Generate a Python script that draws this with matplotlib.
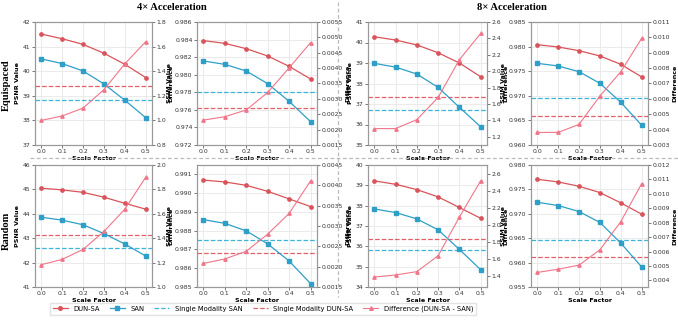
"""Scale factor ablation: PSNR / SSIM vs scale factor."""
import matplotlib
matplotlib.use("Agg")
import matplotlib.pyplot as plt
from matplotlib.lines import Line2D

scale = [0.0, 0.1, 0.2, 0.3, 0.4, 0.5]

# Equispaced, 4x
eq4_psnr_dun = [41.51, 41.32, 41.09, 40.73, 40.28, 39.74]
eq4_psnr_san = [40.50, 40.31, 40.01, 39.48, 38.82, 38.11]
eq4_psnr_single = (38.84, 39.38)  # (SAN, DUN-SA)
eq4_psnr_diff = [1.00, 1.036, 1.10, 1.25, 1.46, 1.64]

eq4_ssim_dun = [0.98388, 0.98357, 0.98296, 0.98213, 0.98095, 0.97951]
eq4_ssim_san = [0.98156, 0.98118, 0.98042, 0.97898, 0.97697, 0.97466]
eq4_ssim_single = (0.97799, 0.97617)
eq4_ssim_diff = [0.00231, 0.00242, 0.00264, 0.00321, 0.00401, 0.00483]

# Equispaced, 8x
eq8_psnr_dun = [40.28, 40.12, 39.88, 39.50, 39.00, 38.33]
eq8_psnr_san = [38.98, 38.80, 38.46, 37.81, 36.84, 35.89]
eq8_psnr_single = (36.69, 37.34)
eq8_psnr_diff = [1.30, 1.30, 1.41, 1.68, 2.14, 2.46]

eq8_ssim_dun = [0.98039, 0.97992, 0.97917, 0.97809, 0.97640, 0.97382]
eq8_ssim_san = [0.97660, 0.97606, 0.97490, 0.97253, 0.96867, 0.96400]
eq8_ssim_single = (0.96949, 0.96596)
eq8_ssim_diff = [0.00382, 0.00382, 0.00434, 0.00619, 0.00777, 0.00994]

# Random, 4x
rd4_psnr_dun = [45.05, 44.98, 44.88, 44.68, 44.43, 44.19]
rd4_psnr_san = [43.86, 43.74, 43.55, 43.19, 42.76, 42.27]
rd4_psnr_single = (42.58, 43.13)
rd4_psnr_diff = [1.183, 1.226, 1.308, 1.455, 1.638, 1.90]

rd4_ssim_dun = [0.99068, 0.99058, 0.99040, 0.99008, 0.98968, 0.98927]
rd4_ssim_san = [0.98858, 0.98838, 0.98798, 0.98729, 0.98638, 0.98518]
rd4_ssim_single = (0.98749, 0.98678)
rd4_ssim_diff = [0.00208, 0.00219, 0.00238, 0.00280, 0.00331, 0.00411]

# Random, 8x
rd8_psnr_dun = [39.22, 39.05, 38.79, 38.43, 37.91, 37.38]
rd8_psnr_san = [37.84, 37.66, 37.35, 36.81, 35.85, 34.85]
rd8_psnr_single = (35.81, 36.35)
rd8_psnr_diff = [1.392, 1.416, 1.455, 1.642, 2.094, 2.52]

rd8_ssim_dun = [0.97707, 0.97653, 0.97564, 0.97435, 0.97223, 0.96992]
rd8_ssim_san = [0.97237, 0.97169, 0.97046, 0.96822, 0.96399, 0.95909]
rd8_ssim_single = (0.96460, 0.96113)
rd8_ssim_diff = [0.00455, 0.00477, 0.00506, 0.00612, 0.00808, 0.01071]

C_DUN = "#d9545a"
C_SAN = "#2e9fc7"
C_DIFF = "#f0768a"
C_SSAN = "#3fb4d9"
C_SDUN = "#e0616a"

W, H = 678, 321
plt.rcParams["font.family"] = "DejaVu Sans"
fig = plt.figure(figsize=(W / 100, H / 100), dpi=100)

TICK_FS = 4.4
LABEL_FS = 4.6


def px_axes(x0, y0, x1, y1):
    return fig.add_axes([x0 / W, 1 - y1 / H, (x1 - x0) / W, (y1 - y0) / H])


def panel(box, dun, san, single, diff, metric, ylim, yticks, dlim, dticks):
    ax = px_axes(*box)
    ax.plot(scale, dun, color=C_DUN, marker="o", ms=2.4, lw=0.9, zorder=4)
    ax.plot(scale, san, color=C_SAN, marker="s", ms=2.4, lw=0.9, zorder=4)
    ax.axhline(single[0], color=C_SSAN, ls="--", lw=0.9, zorder=3)
    ax.axhline(single[1], color=C_SDUN, ls="--", lw=0.9, zorder=3)
    ax.set_ylim(*ylim)
    ax.set_yticks(yticks)
    ax.set_xlim(-0.03, 0.53)
    ax.set_xticks(scale)
    ax.grid(True, color="#e8e8e8", lw=0.6)
    ax.set_axisbelow(True)
    ax.set_xlabel("Scale Factor", fontsize=LABEL_FS, fontweight="bold", labelpad=1)
    ax.set_ylabel(f"{metric} Value", fontsize=LABEL_FS, fontweight="bold", labelpad=2)

    ax2 = ax.twinx()
    ax2.plot(scale, diff, color=C_DIFF, marker="^", ms=2.4, lw=0.8, zorder=4)
    ax2.set_ylim(*dlim)
    ax2.set_yticks(dticks)
    ax2.set_ylabel("Difference", fontsize=LABEL_FS, fontweight="bold", labelpad=1.5)

    for a in (ax, ax2):
        a.tick_params(labelsize=TICK_FS, length=2, width=0.5, pad=1.2,
                      colors="#444444", labelcolor="#333333")
        for s in a.spines.values():
            s.set_color("#999999")
            s.set_linewidth(0.8)
    return ax


cols = [(35, 152), (197, 317), (368, 487), (531, 648)]
rows = [(22, 145), (165, 287)]


def box(r, c):
    return (cols[c][0], rows[r][0], cols[c][1], rows[r][1])


panel(box(0, 0), eq4_psnr_dun, eq4_psnr_san, eq4_psnr_single, eq4_psnr_diff,
      "PSNR", (37, 42), range(37, 43),
      (0.8, 1.8), [0.8, 1.0, 1.2, 1.4, 1.6, 1.8])
panel(box(0, 1), eq4_ssim_dun, eq4_ssim_san, eq4_ssim_single, eq4_ssim_diff,
      "SSIM", (0.972, 0.986), [0.972, 0.974, 0.976, 0.978, 0.980, 0.982, 0.984, 0.986],
      (0.0015, 0.0055),
      [0.0015, 0.002, 0.0025, 0.003, 0.0035, 0.004, 0.0045, 0.005, 0.0055])
panel(box(0, 2), eq8_psnr_dun, eq8_psnr_san, eq8_psnr_single, eq8_psnr_diff,
      "PSNR", (35, 41), range(35, 42),
      (1.1, 2.6), [1.2, 1.4, 1.6, 1.8, 2.0, 2.2, 2.4, 2.6])
panel(box(0, 3), eq8_ssim_dun, eq8_ssim_san, eq8_ssim_single, eq8_ssim_diff,
      "SSIM", (0.960, 0.985), [0.960, 0.965, 0.970, 0.975, 0.980, 0.985],
      (0.003, 0.011),
      [0.003, 0.004, 0.005, 0.006, 0.007, 0.008, 0.009, 0.010, 0.011])

panel(box(1, 0), rd4_psnr_dun, rd4_psnr_san, rd4_psnr_single, rd4_psnr_diff,
      "PSNR", (41, 46), range(41, 47),
      (1.0, 2.0), [1.0, 1.2, 1.4, 1.6, 1.8, 2.0])
panel(box(1, 1), rd4_ssim_dun, rd4_ssim_san, rd4_ssim_single, rd4_ssim_diff,
      "SSIM", (0.985, 0.99148), [0.985, 0.986, 0.987, 0.988, 0.989, 0.990, 0.991],
      (0.0015, 0.0045), [0.0015, 0.002, 0.0025, 0.003, 0.0035, 0.004, 0.0045])
panel(box(1, 2), rd8_psnr_dun, rd8_psnr_san, rd8_psnr_single, rd8_psnr_diff,
      "PSNR", (34, 40), range(34, 41),
      (1.275, 2.705), [1.4, 1.6, 1.8, 2.0, 2.2, 2.4, 2.6])
panel(box(1, 3), rd8_ssim_dun, rd8_ssim_san, rd8_ssim_single, rd8_ssim_diff,
      "SSIM", (0.955, 0.980), [0.955, 0.960, 0.965, 0.970, 0.975, 0.980],
      (0.00354, 0.012),
      [0.004, 0.005, 0.006, 0.007, 0.008, 0.009, 0.010, 0.011, 0.012])

# column / row headings
serif = ["Liberation Serif", "DejaVu Serif"]
head = dict(ha="center", va="center", fontsize=7.6, fontweight="bold", family=serif)
fig.text(172 / W, 1 - 8 / H, "4× Acceleration", **head)
fig.text(512 / W, 1 - 8 / H, "8× Acceleration", **head)
fig.text(6 / W, 1 - 85 / H, "Equispaced", rotation=90, **head)
fig.text(6 / W, 1 - 231 / H, "Random", rotation=90, **head)

# dashed separators
fig.add_artist(Line2D([338 / W, 338 / W], [1 - 2 / H, 1 - 297 / H], color="#bbbbbb",
                      ls=(0, (3, 2)), lw=0.9))
fig.add_artist(Line2D([30 / W, 1.0], [1 - 158 / H, 1 - 158 / H], color="#bbbbbb",
                      ls=(0, (3, 2)), lw=0.9))

handles = [
    Line2D([], [], color=C_DUN, marker="o", ms=2.6, lw=0.9, label="DUN-SA"),
    Line2D([], [], color=C_SAN, marker="s", ms=2.6, lw=0.9, label="SAN"),
    Line2D([], [], color=C_SSAN, ls="--", lw=0.9, label="Single Modality SAN"),
    Line2D([], [], color=C_SDUN, ls="--", lw=0.9, label="Single Modality DUN-SA"),
    Line2D([], [], color=C_DIFF, marker="^", ms=2.6, lw=0.8, label="Difference (DUN-SA - SAN)"),
]
fig.legend(handles=handles, loc="center", bbox_to_anchor=(263 / W, 1 - 309 / H),
           ncol=5, fontsize=4.9, frameon=True, edgecolor="#dddddd", fancybox=False,
           handlelength=2.2, columnspacing=1.5, borderpad=0.45, handletextpad=0.8)

fig.savefig("out.png", dpi=100)
